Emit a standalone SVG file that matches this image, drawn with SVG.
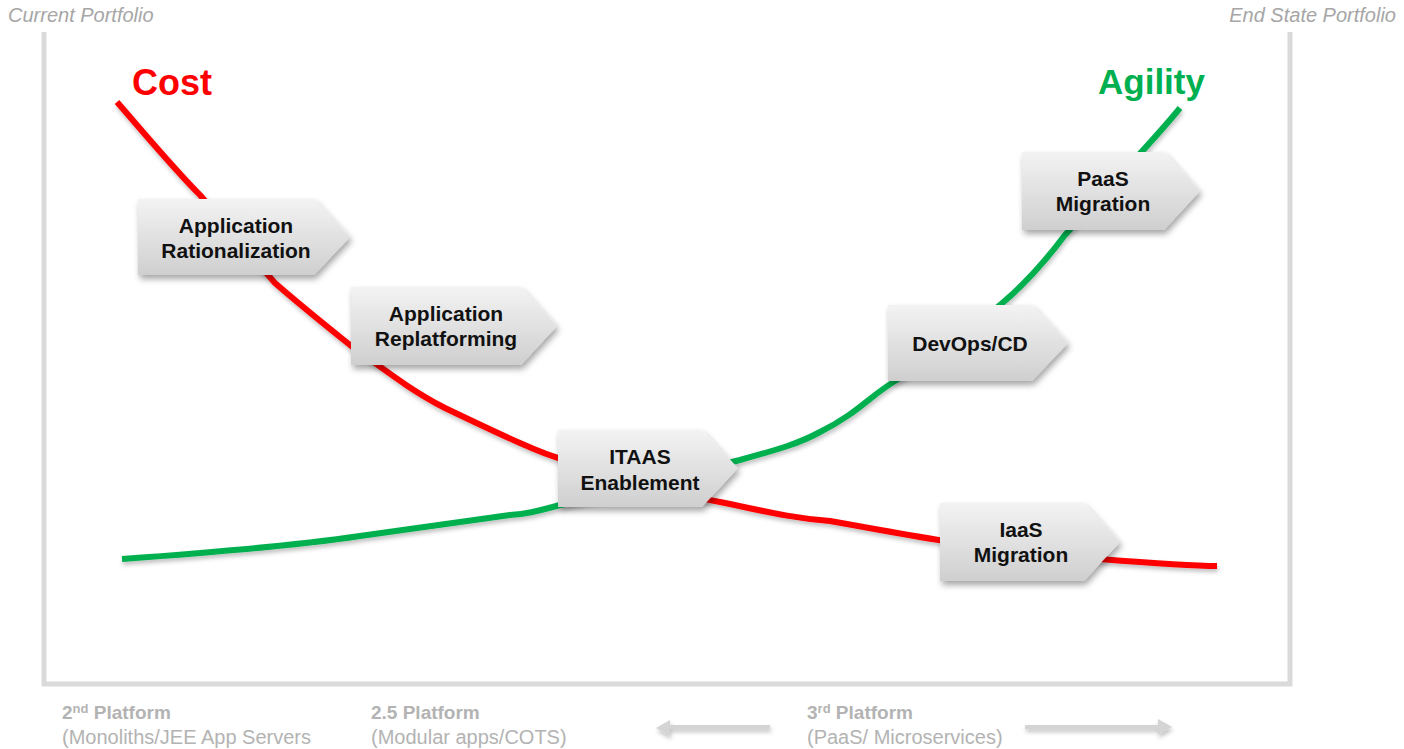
<svg xmlns="http://www.w3.org/2000/svg" width="1404" height="749" viewBox="0 0 1404 749">
<defs>
<linearGradient id="bx" x1="0" y1="0" x2="0" y2="1">
<stop offset="0" stop-color="#f3f3f3"/>
<stop offset="1" stop-color="#cfcfcf"/>
</linearGradient>
<filter id="sh" x="-20%" y="-20%" width="140%" height="150%">
<feDropShadow dx="2" dy="4" stdDeviation="3" flood-color="#000" flood-opacity="0.35"/>
</filter>
<filter id="lsh" x="-10%" y="-20%" width="120%" height="160%">
<feDropShadow dx="1" dy="3" stdDeviation="2" flood-color="#000" flood-opacity="0.25"/>
</filter>
</defs>
<style>
.box{fill:url(#bx);filter:url(#sh)}
.bt{font-family:"Liberation Sans",Arial,sans-serif;font-weight:bold;font-size:21px;fill:#111;text-anchor:middle}
.hdr{font-family:"Liberation Sans",Arial,sans-serif;font-style:italic;font-size:20px;fill:#a6a6a6}
.pl{font-family:"Liberation Sans",Arial,sans-serif;font-size:20px;fill:#b3b3b3}
.plb{font-weight:bold;font-size:19px}
.frame{fill:none;stroke:#dadada;stroke-width:5}
.curve{fill:none;stroke-width:6;stroke-linecap:butt;stroke-linejoin:round;filter:url(#lsh)}
</style>
<text class="hdr" x="8" y="22">Current Portfolio</text>
<text class="hdr" x="1396" y="22" text-anchor="end">End State Portfolio</text>
<path class="frame" d="M44 32 V684 H1290 V32"/>
<text x="132" y="95" font-family="Liberation Sans,Arial,sans-serif" font-weight="bold" font-size="36" fill="#ff0000">Cost</text>
<text x="1098" y="94" font-family="Liberation Sans,Arial,sans-serif" font-weight="bold" font-size="35" fill="#00b050">Agility</text>
<g id="connectors">
<path class="curve" stroke="#00b050" d="M122 559 C220 552 300 545 360 536 C420 528 470 521 510 515 C525 514 535 512 560 505 C620 495 680 475 740 460 C780 449 800 443 820 432 C860 412 870 395 900 378 C940 355 960 340 1000 305 C1030 280 1050 255 1065 235 C1110 185 1150 145 1180 108"/>
<path class="curve" stroke="#ff0000" d="M117 102 C150 140 175 170 200 195 C230 230 250 255 275 283 C300 305 325 325 350 345 C385 370 410 390 445 408 C470 420 495 432 520 443 C540 452 550 456 565 460 C620 478 680 495 720 502 C760 510 790 518 830 521 C870 528 900 534 945 541 C1000 549 1060 556 1100 559 C1150 563 1190 566 1217 566"/>
</g>
<g id="n1"><path class="box" d="M138 199 H314 L350 237 L314 275 H138 Z"/><text class="bt" x="236" y="233">Application</text><text class="bt" x="236" y="258">Rationalization</text></g>
<g id="n2"><path class="box" d="M351 287 H521 L557 326 L521 365 H351 Z"/><text class="bt" x="446" y="321">Application</text><text class="bt" x="446" y="346">Replatforming</text></g>
<g id="n3"><path class="box" d="M558 430 H702 L738 468 L702 507 H558 Z"/><text class="bt" x="640" y="464">ITAAS</text><text class="bt" x="640" y="490">Enablement</text></g>
<g id="n4"><path class="box" d="M888 305 H1032 L1068 343 L1032 381 H888 Z"/><text class="bt" x="970" y="351">DevOps/CD</text></g>
<g id="n5"><path class="box" d="M1022 152 H1164 L1200 191 L1164 230 H1022 Z"/><text class="bt" x="1103" y="186">PaaS</text><text class="bt" x="1103" y="211">Migration</text></g>
<g id="n6"><path class="box" d="M940 503 H1084 L1120 542 L1084 581 H940 Z"/><text class="bt" x="1021" y="537">IaaS</text><text class="bt" x="1021" y="562">Migration</text></g>
<g id="platforms">
<text class="pl plb" x="62" y="719">2<tspan font-size="13" dy="-6">nd</tspan><tspan dy="6"> Platform</tspan></text>
<text class="pl" x="62" y="744">(Monoliths/JEE App Servers</text>
<text class="pl plb" x="371" y="719">2.5 Platform</text>
<text class="pl" x="371" y="744">(Modular apps/COTS)</text>
<text class="pl plb" x="807" y="719">3<tspan font-size="13" dy="-6">rd</tspan><tspan dy="6"> Platform</tspan></text>
<text class="pl" x="807" y="744">(PaaS/ Microservices)</text>
<g filter="url(#lsh)">
<path d="M770 727 H670" stroke="#d4d4d4" stroke-width="4" fill="none"/>
<path d="M656 728 L670 720 L670 736 Z" fill="#d4d4d4"/>
<path d="M1025 727 H1158" stroke="#d4d4d4" stroke-width="4" fill="none"/>
<path d="M1172 727 L1158 719 L1158 735 Z" fill="#d4d4d4"/>
</g>
</g>
</svg>
